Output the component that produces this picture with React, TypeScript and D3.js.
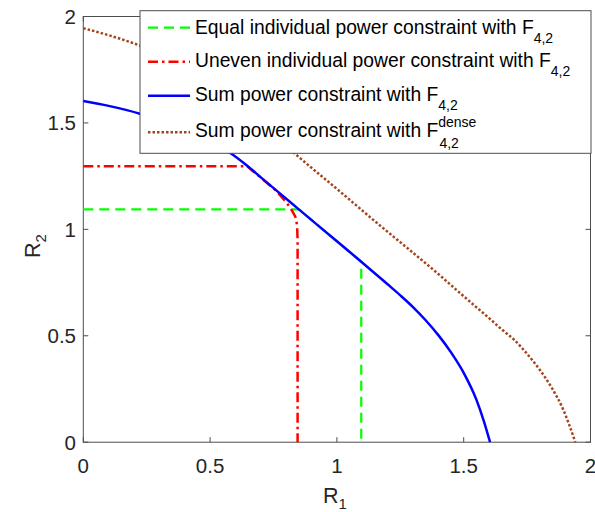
import React from "react";
import * as d3 from "d3";

// values (R1, R2 pairs)
const equalPower: [number, number][] = [
  [0, 1.094], [0.85, 1.094], [1.096, 0.848], [1.096, 0],
];
const unevenPower: [number, number][] = [
  [0, 1.297], [0.645, 1.297], [0.7, 1.243], [0.76, 1.182], [0.8, 1.128],
  [0.822, 1.09], [0.836, 1.06], [0.843, 1.02], [0.845, 0.95], [0.845, 0],
];
const sumPower: [number, number][] = [
  [0, 1.603], [0.1, 1.58], [0.223, 1.543], [0.35, 1.485], [0.45, 1.43],
  [0.578, 1.36], [0.645, 1.3], [0.7, 1.244], [0.774, 1.17], [0.85, 1.094],
  [1.0, 0.944], [1.096, 0.848], [1.2, 0.742], [1.25, 0.69], [1.3, 0.635],
  [1.35, 0.573], [1.4, 0.503], [1.45, 0.422], [1.5, 0.326], [1.55, 0.2],
  [1.58, 0.097], [1.604, 0],
];
const sumPowerDense: [number, number][] = [
  [0, 1.945], [0.1, 1.912], [0.217, 1.866], [0.4, 1.77], [0.55, 1.66],
  [0.7, 1.5], [0.833, 1.357], [1.0, 1.19], [1.168, 1.02], [1.287, 0.903],
  [1.405, 0.785], [1.47, 0.717], [1.55, 0.634], [1.601, 0.582], [1.65, 0.53],
  [1.7, 0.48], [1.75, 0.415], [1.8, 0.34], [1.85, 0.25], [1.89, 0.16],
  [1.915, 0.085], [1.94, 0],
];
const xTicks = [0, 0.5, 1, 1.5, 2];
const yTicks = [0, 0.5, 1, 1.5, 2];

const series = [
  { name: "Equal individual power constraint with F", sup: "", data: equalPower, color: "#00ff00", dash: "10,6", width: 2.2, smooth: false },
  { name: "Uneven individual power constraint with F", sup: "", data: unevenPower, color: "#ff0000", dash: "10,4,2.5,4", width: 2.5, smooth: false },
  { name: "Sum power constraint with F", sup: "", data: sumPower, color: "#0000ff", dash: "", width: 2.5, smooth: true },
  { name: "Sum power constraint with F", sup: "dense", data: sumPowerDense, color: "#a5451c", dash: "2.5,2", width: 2.5, smooth: true },
];

const W = 595;
const H = 512;
const plot = { left: 83.3, right: 590.5, top: 16.5, bottom: 442.2 };
const font = "'Liberation Sans', Arial, sans-serif";
const axisColor = "#4d4d4d";
const textColor = "#262626";

export default function App() {
  const x = d3.scaleLinear().domain([0, 2]).range([plot.left, plot.right]);
  const y = d3.scaleLinear().domain([0, 2]).range([plot.bottom, plot.top]);
  const straight = d3
    .line<[number, number]>()
    .x((d) => x(d[0]))
    .y((d) => y(d[1]));
  const smooth = d3
    .line<[number, number]>()
    .x((d) => x(d[0]))
    .y((d) => y(d[1]))
    .curve(d3.curveMonotoneX);

  // legend layout
  const legend = { x: 140, y: 10.7, w: 451, h: 142.6 };
  const rowLineY = [27.7, 61.7, 95.7, 132.3];
  const rowBase = [34, 66.5, 100.5, 137];

  return (
    <div style={{ position: "absolute", left: 0, top: 0 }}>
      <svg width={W} height={H} style={{ display: "block", background: "#fff" }}>
        {/* axes box */}
        <rect
          x={plot.left}
          y={plot.top}
          width={plot.right - plot.left}
          height={plot.bottom - plot.top}
          fill="#fff"
          stroke={axisColor}
          strokeWidth={1}
        />
        {xTicks.map((t) => (
          <g key={"x" + t}>
            <line x1={x(t)} x2={x(t)} y1={plot.bottom} y2={plot.bottom - 5} stroke={axisColor} />
            <line x1={x(t)} x2={x(t)} y1={plot.top} y2={plot.top + 5} stroke={axisColor} />
            <text x={x(t)} y={472.5} textAnchor="middle" fontFamily={font} fontSize={20.5} fill={textColor}>
              {t}
            </text>
          </g>
        ))}
        {yTicks.map((t) => (
          <g key={"y" + t}>
            <line x1={plot.left} x2={plot.left + 5} y1={y(t)} y2={y(t)} stroke={axisColor} />
            <line x1={plot.right} x2={plot.right - 5} y1={y(t)} y2={y(t)} stroke={axisColor} />
            <text x={76} y={y(t) + 7.5} textAnchor="end" fontFamily={font} fontSize={20.5} fill={textColor}>
              {t}
            </text>
          </g>
        ))}

        {/* curves */}
        <g fill="none" strokeLinejoin="round">
          {series.map((s, i) => (
            <path
              key={i}
              d={(s.smooth ? smooth(s.data) : straight(s.data)) || ""}
              stroke={s.color}
              strokeWidth={s.width}
              strokeDasharray={s.dash || undefined}
            />
          ))}
        </g>

        {/* axis labels */}
        <text x={323} y={503} fontFamily={font} fontSize={21.5} fill={textColor}>
          R<tspan fontSize={15} dy={6}>1</tspan>
        </text>
        <text transform="translate(40,258) rotate(-90)" fontFamily={font} fontSize={21.5} fill={textColor}>
          R<tspan fontSize={15} dy={6}>2</tspan>
        </text>

        {/* legend */}
        <rect x={legend.x} y={legend.y} width={legend.w} height={legend.h} fill="#fff" stroke={axisColor} strokeWidth={1} />
        {series.map((s, i) => (
          <g key={"l" + i}>
            <line
              x1={148}
              x2={190}
              y1={rowLineY[i]}
              y2={rowLineY[i]}
              stroke={s.color}
              strokeWidth={s.width}
              strokeDasharray={s.dash || undefined}
            />
            <text x={195} y={rowBase[i]} fontFamily={font} fontSize={19.3} fill="#000">
              {s.name}
              {s.sup ? (
                <>
                  <tspan fontSize={14} dy={-10}>{s.sup}</tspan>
                  <tspan fontSize={14} dx={-37} dy={21}>4,2</tspan>
                </>
              ) : (
                <tspan fontSize={14} dy={9}>4,2</tspan>
              )}
            </text>
          </g>
        ))}
      </svg>
    </div>
  );
}
